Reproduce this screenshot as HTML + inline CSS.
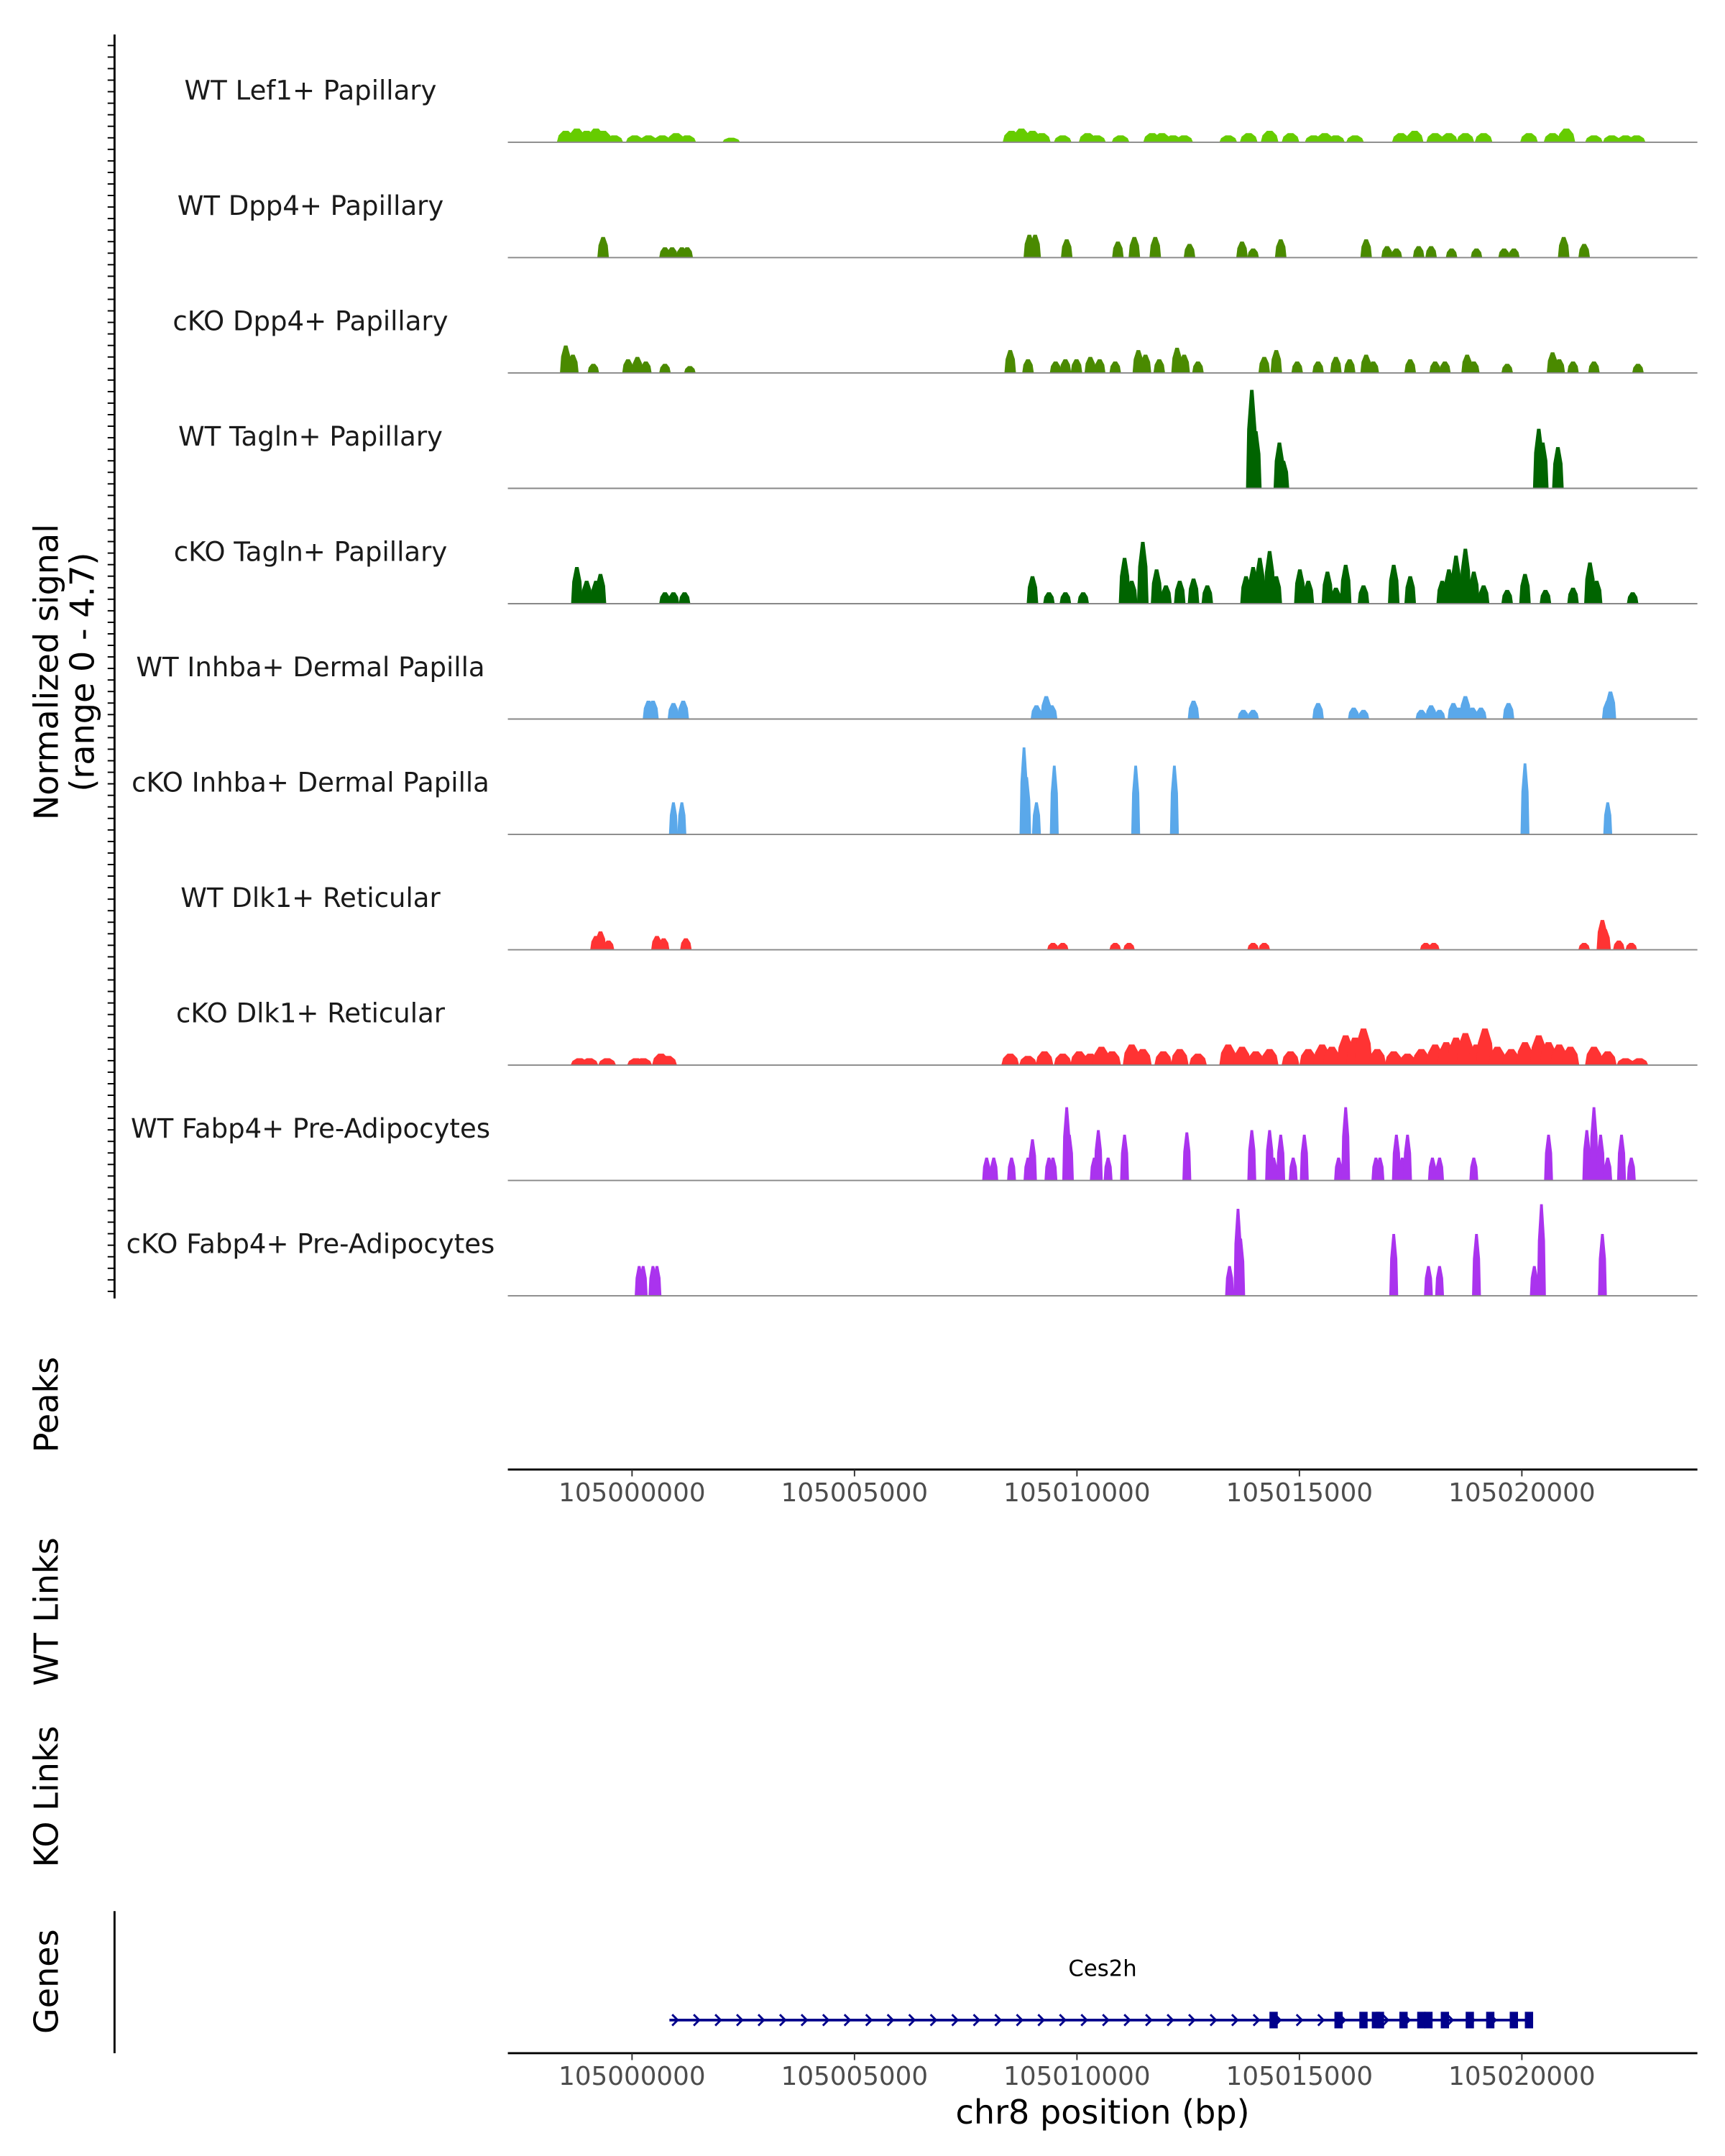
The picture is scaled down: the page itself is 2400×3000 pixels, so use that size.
<!DOCTYPE html>
<html><head><meta charset="utf-8"><style>
html,body{margin:0;padding:0;background:#fff;}
svg{display:block;font-family:"DejaVu Sans","Liberation Sans",sans-serif;}
</style></head><body>
<svg id="chart" width="2400" height="3000" viewBox="0 0 1250 1562.5" xmlns="http://www.w3.org/2000/svg">
<g id="left"></g>
<g id="tracks"></g>
<g id="axes"></g>
<g id="genes"></g>
</svg>
<script>
const trackNames=["WT Lef1+ Papillary","WT Dpp4+ Papillary","cKO Dpp4+ Papillary","WT Tagln+ Papillary","cKO Tagln+ Papillary","WT Inhba+ Dermal Papilla","cKO Inhba+ Dermal Papilla","WT Dlk1+ Reticular","cKO Dlk1+ Reticular","WT Fabp4+ Pre-Adipocytes","cKO Fabp4+ Pre-Adipocytes"];
const trackColors=["#66cc00","#4a8a00","#4a8a00","#006400","#006400","#5aa8ea","#5aa8ea","#ff3333","#ff3333","#aa33ee","#aa33ee"];
// peak positions in kb offset from 105,000,000 and heights (signal units)
const pos0=[-1.49,-1.24,-1.02,-0.81,-0.65,-0.40,0.06,0.37,0.68,0.99,1.24,2.23,8.53,8.75,9.00,9.21,9.68,10.24,10.45,10.98,11.69,11.91,12.16,12.41,13.40,13.86,14.33,14.80,15.32,15.57,15.82,16.25,17.28,17.59,18.05,18.36,18.73,19.14,20.16,20.69,21.00,21.62,22.02,22.33,22.58];
const val0=[0.5,0.6,0.5,0.6,0.5,0.3,0.3,0.3,0.3,0.4,0.3,0.2,0.5,0.6,0.5,0.4,0.3,0.4,0.3,0.3,0.4,0.4,0.3,0.3,0.3,0.4,0.5,0.4,0.3,0.4,0.3,0.3,0.4,0.5,0.4,0.4,0.4,0.4,0.4,0.4,0.6,0.3,0.3,0.3,0.3];
const pos1=[-0.65,0.74,0.90,1.12,1.24,8.93,9.06,9.77,10.92,11.29,11.76,12.53,13.71,13.96,14.58,16.50,16.97,17.18,17.68,17.96,18.42,18.98,19.60,19.82,20.94,21.40];
const val1=[0.9,0.45,0.45,0.45,0.45,1.0,1.0,0.8,0.7,0.9,0.9,0.6,0.7,0.4,0.8,0.8,0.5,0.4,0.5,0.5,0.4,0.4,0.4,0.4,0.9,0.6];
const pos2=[-1.49,-1.33,-0.87,-0.09,0.12,0.31,0.74,1.30,8.50,8.90,9.52,9.74,9.99,10.30,10.51,10.86,11.38,11.54,11.85,12.25,12.41,12.72,14.21,14.48,14.95,15.42,15.82,16.13,16.50,16.66,17.49,18.05,18.27,18.77,18.92,19.67,20.69,20.84,21.15,21.62,22.61];
const val2=[1.2,0.8,0.4,0.6,0.7,0.5,0.4,0.3,1.0,0.6,0.5,0.6,0.6,0.7,0.6,0.5,1.0,0.8,0.6,1.1,0.8,0.5,0.7,1.0,0.5,0.5,0.7,0.6,0.8,0.5,0.6,0.5,0.5,0.8,0.5,0.4,0.9,0.6,0.5,0.5,0.4];
const pos3=[13.93,14.02,14.55,14.64,20.38,20.47,20.81];
const val3=[4.3,2.5,2.0,1.2,2.6,2.0,1.8];
const pos4=[-1.24,-1.02,-0.81,-0.71,0.74,0.93,1.18,9.00,9.37,9.74,10.14,11.07,11.23,11.48,11.79,12.00,12.31,12.62,12.93,13.80,13.96,14.11,14.33,14.48,15.01,15.20,15.63,15.82,16.04,16.44,17.12,17.49,18.21,18.36,18.52,18.73,18.92,19.14,19.67,20.07,20.53,21.15,21.53,21.68,22.49];
const val4=[1.6,1.0,1.0,1.3,0.5,0.5,0.5,1.2,0.5,0.5,0.5,2.0,1.0,2.7,1.5,0.8,1.0,1.1,0.8,1.2,1.6,2.0,2.3,1.2,1.5,1.0,1.4,0.7,1.7,0.8,1.7,1.2,1.0,1.5,2.1,2.4,1.4,0.8,0.6,1.3,0.6,0.7,1.8,1.0,0.5];
const pos5=[0.37,0.47,0.93,1.15,9.09,9.31,9.43,12.62,13.74,13.96,15.42,16.22,16.44,17.74,17.96,18.15,18.46,18.58,18.73,18.89,19.08,19.70,21.93,21.99];
const val5=[0.8,0.8,0.7,0.8,0.6,1.0,0.6,0.8,0.4,0.4,0.7,0.5,0.4,0.4,0.6,0.4,0.7,0.5,1.0,0.5,0.5,0.7,0.8,1.2];
const pos6=[0.93,1.12,8.81,8.87,9.09,9.49,11.32,12.19,20.07,21.93];
const val6=[1.4,1.4,3.8,2.5,1.4,3.0,3.0,3.0,3.1,1.4];
const pos7=[-0.81,-0.71,-0.53,0.56,0.71,1.21,9.46,9.68,10.86,11.17,13.96,14.21,17.84,18.02,21.40,21.81,21.87,22.18,22.46];
const val7=[0.6,0.8,0.4,0.6,0.5,0.5,0.3,0.3,0.3,0.3,0.3,0.3,0.3,0.3,0.3,1.3,0.9,0.4,0.3];
const pos8=[-1.18,-0.96,-0.56,0.09,0.25,0.65,0.81,8.50,8.90,9.27,9.68,10.05,10.30,10.55,10.79,11.23,11.48,11.94,12.31,12.72,13.40,13.71,14.02,14.33,14.80,15.20,15.51,15.73,16.04,16.25,16.44,16.75,17.12,17.43,17.74,18.05,18.30,18.52,18.73,18.98,19.17,19.45,19.76,20.07,20.38,20.60,20.84,21.09,21.62,21.93,22.33,22.64];
const val8=[0.3,0.3,0.3,0.3,0.3,0.5,0.4,0.5,0.4,0.6,0.5,0.6,0.5,0.8,0.6,0.9,0.7,0.6,0.7,0.5,0.9,0.8,0.6,0.7,0.6,0.7,0.9,0.8,1.3,1.2,1.6,0.7,0.6,0.5,0.7,0.9,1.0,1.2,1.4,0.9,1.6,0.8,0.7,1.0,1.3,1.0,0.9,0.8,0.8,0.6,0.3,0.3];
const pos9=[7.97,8.13,8.53,8.90,9.00,9.37,9.46,9.77,9.83,10.39,10.48,10.70,11.07,12.47,13.93,14.33,14.42,14.58,14.86,15.11,15.88,16.04,16.72,16.81,17.18,17.31,17.43,17.99,18.15,18.92,20.60,21.46,21.62,21.77,21.93,22.24,22.46];
const val9=[1.0,1.0,1.0,1.0,1.8,1.0,1.0,3.2,2.0,1.0,2.2,1.0,2.0,2.1,2.2,2.2,1.0,2.0,1.0,2.0,1.0,3.2,1.0,1.0,2.0,1.0,2.0,1.0,1.0,1.0,2.0,2.2,3.2,2.0,1.0,2.0,1.0];
const pos10=[0.16,0.25,0.47,0.56,13.43,13.62,13.68,17.12,17.90,18.15,18.98,20.28,20.44,21.81];
const val10=[1.3,1.3,1.3,1.3,1.3,3.8,2.5,2.7,1.3,1.3,2.7,1.3,4.0,2.7];
const allPos=[pos0,pos1,pos2,pos3,pos4,pos5,pos6,pos7,pos8,pos9,pos10];
const allVal=[val0,val1,val2,val3,val4,val5,val6,val7,val8,val9,val10];
const xTicks=[0,5,10,15,20];
const xTickLabels=["105000000","105005000","105010000","105015000","105020000"];
const geneStartEnd=[0.84,20.22];
const exons=[14.42,15.88,16.44,16.72,16.81,17.34,17.74,17.90,18.27,18.83,19.29,19.82,20.16];

const NS="http://www.w3.org/2000/svg";
function mk(tag,attrs,parent,text){const e=document.createElementNS(NS,tag);for(const k in attrs)e.setAttribute(k,attrs[k]);if(text!==undefined)e.textContent=text;parent.appendChild(e);return e;}
const X0=368,X1=1230;
function xs(kb){return 458+kb*32.24;}
const trackTop=20,trackH=83.6,maxV=4.7;
function ys(i,v){const base=trackTop+(i+1)*trackH-0.5;return base-Math.min(v,maxV)/maxV*78;}
const left=document.getElementById('left'),tracks=document.getElementById('tracks'),axes=document.getElementById('axes'),genes=document.getElementById('genes');

mk('line',{x1:83,y1:25,x2:83,y2:941,stroke:'#000','stroke-width':1.5},left);
for(let y=33;y<940;y+=8.36){const t=mk('line',{x1:78,y1:y,x2:83,y2:y,stroke:'#000','stroke-width':1},left);

}
function rtext(x,y,s,name){const t=mk('text',{x:x,y:y,'font-size':24,'text-anchor':'middle',transform:`rotate(-90 ${x} ${y})`},left,s);

}
rtext(42,487,"Normalized signal","y-axis-title");
rtext(68,487,"(range 0 - 4.7)","y-axis-range");
rtext(42,1018,"Peaks","peaks-label");
rtext(42,1168,"WT Links","wt-links-label");
rtext(42,1302,"KO Links","ko-links-label");
rtext(42,1436,"Genes","genes-label");
mk('line',{x1:83,y1:1385,x2:83,y2:1488,stroke:'#000','stroke-width':1.5},left);

trackNames.forEach((nm,i)=>{
  const base=trackTop+(i+1)*trackH-0.5;
  const g=mk('g',{},tracks);
  
  
  const lb=mk('text',{x:225,y:base-31,'font-size':19.3,'text-anchor':'middle',fill:'#1a1a1a'},g,nm);
  
  
  const w=(i===6||i===9||i===10)?0.1:((i===0||i===8)?0.2:0.13);
  allPos[i].forEach((p,j)=>{
    const v=allVal[i][j];const cx=xs(p),hw=w*32.24,top=ys(i,v);
    const poly=mk('polygon',{points:`${cx-hw},${base} ${cx-hw*0.8},${top+(base-top)*0.4} ${cx-hw*0.3},${top} ${cx+hw*0.3},${top} ${cx+hw*0.8},${top+(base-top)*0.4} ${cx+hw},${base}`,fill:trackColors[i]},g);
    
    
  });
  const bl=mk('line',{x1:X0,y1:base,x2:X1,y2:base,stroke:'#888','stroke-width':1},g);
  
  
});

function xaxis(y,name){
  const g=mk('g',{},axes);
  
  
  mk('line',{x1:X0,y1:y,x2:X1,y2:y,stroke:'#000','stroke-width':1.5},g);
  xTicks.forEach((t,k)=>{const x=xs(t);mk('line',{x1:x,y1:y,x2:x,y2:y+5,stroke:'#333','stroke-width':1},g);
    const tl=mk('text',{x:x,y:y+23,'font-size':18.6,'text-anchor':'middle',fill:'#4d4d4d'},g,xTickLabels[k]);
    
    });
}
xaxis(1065,'peaks-x-axis');
xaxis(1488,'genes-x-axis');
const xt=mk('text',{x:799,y:1539,'font-size':24,'text-anchor':'middle'},axes,"chr8 position (bp)");



const gy=1464;
const gl=mk('line',{x1:xs(geneStartEnd[0]),y1:gy,x2:xs(geneStartEnd[1]),y2:gy,stroke:'#00008b','stroke-width':2},genes);


for(let x=xs(geneStartEnd[0])+2;x<xs(geneStartEnd[1])-6;x+=15.6){
  const a=mk('polyline',{points:`${x},${gy-4} ${x+4},${gy} ${x},${gy+4}`,fill:'none',stroke:'#00008b','stroke-width':1.5},genes);
  
  
}
exons.forEach(e=>{const r=mk('rect',{x:xs(e)-3,y:gy-6,width:6,height:12,fill:'#00008b'},genes);
  
  });
const gn=mk('text',{x:799,y:1432,'font-size':16,'text-anchor':'middle'},genes,"Ces2h");


</script>
</body></html>
